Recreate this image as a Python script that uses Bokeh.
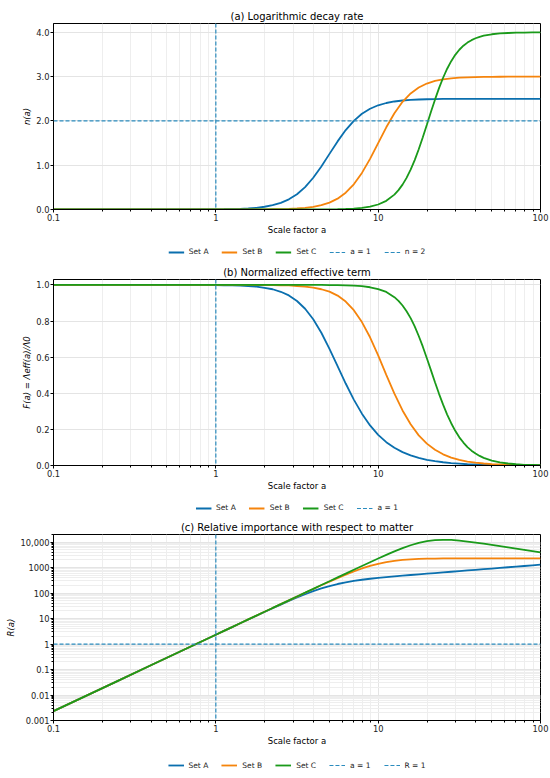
from bokeh.plotting import figure
from bokeh.models import FixedTicker, Range1d, Legend, LegendItem, Span, NumeralTickFormatter
from bokeh.layouts import column
from bokeh.embed import file_html
from bokeh.resources import INLINE

# ---- data ----
a = [0.1, 0.1585, 0.2512, 0.3981, 0.631, 1, 1.122, 1.259, 1.413, 1.585, 1.778, 1.995, 2.239, 2.512,
     2.818, 3.162, 3.548, 3.981, 4.467, 5.012, 5.623, 6.31, 7.079, 7.943, 8.913, 10, 11.22, 12.59,
     14.13, 15.85, 17.78, 19.95, 22.39, 25.12, 28.18, 31.62, 35.48, 39.81, 44.67, 50.12, 56.23,
     63.1, 70.79, 79.43, 89.13, 100]

# Set C is read more densely where it is steep
a_C = [0.1, 0.1585, 0.2512, 0.3981, 0.631, 1, 1.122, 1.259, 1.413, 1.585, 1.778, 1.995, 2.239, 2.512,
       2.818, 3.162, 3.548, 3.981, 4.467, 5.012, 5.623, 6.31, 7.079, 7.943, 8.913, 10, 11.22, 12.59,
       13.34, 14.13, 14.96, 15.85, 16.79, 17.78, 18.84, 19.95, 21.13, 22.39, 23.71, 25.12, 26.61, 28.18,
       29.85, 31.62, 33.5, 35.48, 37.58, 39.81, 42.17, 44.67, 50.12, 56.23, 63.1, 70.79, 79.43, 89.13, 100]

n_A = [0, 0, 0, 0, 0.001, 0.004, 0.006, 0.010, 0.016, 0.025, 0.039, 0.062, 0.097, 0.150, 0.229, 0.345,
       0.506, 0.717, 0.973, 1.256, 1.538, 1.793, 2.002, 2.161, 2.275, 2.353, 2.405, 2.439, 2.461, 2.475,
       2.484, 2.490, 2.494, 2.496, 2.498, 2.498, 2.499, 2.499, 2.5, 2.5, 2.5, 2.5, 2.5, 2.5, 2.5, 2.5]
n_B = [0, 0, 0, 0, 0, 0, 0, 0, 0.001, 0.001, 0.002, 0.003, 0.006, 0.009, 0.015, 0.024, 0.038, 0.061,
       0.098, 0.156, 0.245, 0.379, 0.57, 0.826, 1.144, 1.5, 1.856, 2.174, 2.431, 2.621, 2.754, 2.844,
       2.902, 2.939, 2.962, 2.976, 2.985, 2.991, 2.994, 2.997, 2.998, 2.999, 2.999, 3, 3, 3]
n_C = [0, 0, 0, 0, 0, 0, 0, 0, 0, 0, 0, 0, 0, 0, 0, 0, 0.001, 0.001, 0.002, 0.004, 0.007, 0.012, 0.021,
       0.036, 0.064, 0.113, 0.196, 0.336, 0.437, 0.562, 0.714, 0.900, 1.116, 1.361, 1.631, 1.913, 2.200,
       2.480, 2.740, 2.975, 3.179, 3.350, 3.492, 3.607, 3.698, 3.769, 3.824, 3.867, 3.899, 3.924, 3.957,
       3.976, 3.986, 3.992, 3.996, 3.998, 3.999]

F_A = [1, 1, 1, 1, 1, 0.999, 0.998, 0.997, 0.996, 0.994, 0.990, 0.984, 0.976, 0.962, 0.942, 0.911,
       0.868, 0.810, 0.735, 0.646, 0.550, 0.454, 0.365, 0.287, 0.222, 0.170, 0.129, 0.098, 0.074, 0.056,
       0.042, 0.031, 0.024, 0.018, 0.013, 0.010, 0.007, 0.006, 0.004, 0.003, 0.002, 0.002, 0.001, 0.001,
       0.001, 0.001]
F_B = [1, 1, 1, 1, 1, 1, 1, 1, 1, 1, 0.999, 0.999, 0.999, 0.998, 0.997, 0.994, 0.991, 0.985, 0.976,
       0.963, 0.941, 0.908, 0.86, 0.794, 0.71, 0.61, 0.502, 0.398, 0.305, 0.228, 0.167, 0.121, 0.087,
       0.062, 0.044, 0.031, 0.022, 0.016, 0.011, 0.008, 0.006, 0.004, 0.003, 0.002, 0.001, 0.001]
F_C = [1, 1, 1, 1, 1, 1, 1, 1, 1, 1, 1, 1, 1, 1, 1, 1, 1, 1, 1, 0.999, 0.999, 0.998, 0.996, 0.993,
       0.987, 0.977, 0.961, 0.932, 0.912, 0.886, 0.854, 0.816, 0.770, 0.717, 0.658, 0.594, 0.528, 0.461,
       0.397, 0.337, 0.282, 0.234, 0.192, 0.156, 0.127, 0.102, 0.082, 0.066, 0.053, 0.042, 0.027, 0.017,
       0.011, 0.007, 0.004, 0.003, 0.002]

R_A = [0.00233, 0.00928, 0.0369, 0.147, 0.585, 2.33, 3.29, 4.64, 6.55, 9.22, 13, 18.2, 25.5, 35.5, 49.1,
       67.1, 90.4, 119, 153, 190, 228, 266, 302, 335, 367, 397, 426, 455, 485, 515, 547, 580, 615, 652,
       691, 732, 776, 822, 870, 922, 977, 1035, 1096, 1161, 1230, 1303]
R_B = [0.00233, 0.00928, 0.0369, 0.147, 0.585, 2.33, 3.29, 4.65, 6.57, 9.27, 13.1, 18.5, 26.1, 36.9, 52,
       73.2, 103, 145, 203, 282, 390, 532, 711, 928, 1171, 1420, 1653, 1851, 2005, 2116, 2192, 2243, 2275,
       2296, 2309, 2317, 2322, 2325, 2327, 2328, 2329, 2329, 2330, 2330, 2330, 2330]
R_C = [0.00233, 0.00928, 0.0369, 0.147, 0.585, 2.33, 3.29, 4.65, 6.57, 9.28, 13.1, 18.5, 26.2, 36.9, 52.1,
       73.7, 104, 147, 208, 293, 414, 584, 823, 1160, 1630, 2280, 3160, 4330, 5820, 7570, 9390, 11000,
       12100, 12400, 12200, 11500, 10600, 9670, 8720, 7830, 7000, 6250, 5580, 4980, 4440, 3960]

series_names = ["Set A", "Set B", "Set C"]
ref_a = 1.0
ref_n = 2.0
ref_R = 1.0

x_ticks = [0.1, 1, 10, 100]
x_tick_labels = ["0.1", "1", "10", "100"]
n_ticks = [0, 1, 2, 3, 4]
F_ticks = [0, 0.2, 0.4, 0.6, 0.8, 1.0]
R_ticks = [1e-3, 1e-2, 1e-1, 1, 10, 100, 1000, 1e4]
R_tick_labels = ["0.001", "0.01", "0.1", "1", "10", "100", "1000", "10,000"]

# ---- style ----
COLORS = ["#0a6fae", "#f5840c", "#1a9a1a"]
REF = "#2b8cbe"
FONT = "DejaVu Sans"
LW = 1.8
DASH = "4 2"
DW = 1.2
HIDDEN = [-1.0]  # legend-strip key lines sit outside the strip's empty range


def minor_of(decades):
    return [m * d for d in decades for m in range(2, 10)]


def style(p):
    p.title.align = "center"
    p.title.text_font = FONT
    p.title.text_font_size = "10px"
    p.title.text_font_style = "normal"
    p.title.text_color = "black"
    p.title.standoff = 3
    p.xaxis.ticker = FixedTicker(ticks=x_ticks, minor_ticks=minor_of(x_ticks[:-1]))
    p.xaxis.major_label_overrides = dict(zip(x_ticks, x_tick_labels))
    for ax in p.axis:
        ax.major_label_text_font = FONT
        ax.major_label_text_font_size = "8.3px"
        ax.major_label_text_color = "#222222"
        ax.axis_label_text_font = FONT
        ax.axis_label_text_font_size = "8.5px"
        ax.axis_label_text_color = "black"
        ax.major_tick_out = 3
        ax.major_tick_in = 0
        ax.minor_tick_out = 2
        ax.minor_tick_in = 0
        ax.major_label_standoff = 1
        ax.axis_label_standoff = 1
        ax.axis_line_color = "black"
    p.xaxis.axis_label_text_font_style = "normal"
    p.yaxis.axis_label_text_font_style = "italic"
    p.outline_line_color = "black"
    p.outline_line_alpha = 1
    p.grid.grid_line_color = "#e4e4e4"
    p.xgrid.minor_grid_line_color = "#eeeeee"


panels = [
    dict(title="(a) Logarithmic decay rate", ylab="n(a)", ytype="linear", yr=(0, 4.2),
         xs=[a, a, a_C], ys=[n_A, n_B, n_C], h=239, top=23, hline=("n = 2", ref_n), lh=23, ltop=2),
    dict(title="(b) Normalized effective term", ylab="F(a) = Λeff(a)/Λ0", ytype="linear", yr=(0, 1.03),
         xs=[a, a, a_C], ys=[F_A, F_B, F_C], h=233, top=17, hline=None, lh=23, ltop=2),
    dict(title="(c) Relative importance with respect to matter", ylab="R(a)", ytype="log", yr=(1e-3, 2e4),
         xs=[a, a, a], ys=[R_A, R_B, R_C], h=232, top=16, hline=("R = 1", ref_R), lh=28, ltop=2),
]

rows = []
for i, spec in enumerate(panels):
    p = figure(width=550, height=spec["h"], x_axis_type="log", y_axis_type=spec["ytype"],
               x_range=Range1d(0.1, 100), y_range=Range1d(*spec["yr"]),
               output_backend="svg", toolbar_location=None,
               min_border_left=53, min_border_right=10,
               min_border_top=spec["top"], min_border_bottom=30,
               title=spec["title"])
    style(p)
    p.xaxis.axis_label = "Scale factor a"
    p.yaxis.axis_label = spec["ylab"]
    if i == 0:
        p.yaxis.ticker = FixedTicker(ticks=n_ticks)
        p.yaxis.formatter = NumeralTickFormatter(format="0.0")
    elif i == 1:
        p.yaxis.ticker = FixedTicker(ticks=F_ticks)
        p.yaxis.formatter = NumeralTickFormatter(format="0.0")
    else:
        p.yaxis.ticker = FixedTicker(ticks=R_ticks, minor_ticks=minor_of(R_ticks))
        p.yaxis.major_label_overrides = dict(zip(R_ticks, R_tick_labels))
        p.ygrid.minor_grid_line_color = "#eeeeee"

    for xs, ys, col in zip(spec["xs"], spec["ys"], COLORS):
        p.line(xs, ys, line_color=col, line_width=LW)
    p.add_layout(Span(location=ref_a, dimension="height", line_color=REF, line_dash=DASH, line_width=DW))
    if spec["hline"]:
        p.add_layout(Span(location=spec["hline"][1], dimension="width", line_color=REF,
                          line_dash=DASH, line_width=DW))
    rows.append(p)

    # legend strip under the panel
    lf = figure(width=550, height=spec["lh"], x_range=Range1d(0, 1), y_range=Range1d(0, 1),
                x_axis_location=None, y_axis_location=None,
                output_backend="svg", toolbar_location=None,
                min_border_left=53, min_border_right=10, min_border_top=spec["ltop"], min_border_bottom=0)
    lf.grid.visible = False
    lf.outline_line_color = None
    items = []
    for name, col in zip(series_names, COLORS):
        r = lf.line(HIDDEN, HIDDEN, line_color=col, line_width=LW)
        items.append(LegendItem(label=name, renderers=[r]))
    r = lf.line(HIDDEN, HIDDEN, line_color=REF, line_dash=DASH, line_width=DW)
    items.append(LegendItem(label="a = 1", renderers=[r]))
    if spec["hline"]:
        r = lf.line(HIDDEN, HIDDEN, line_color=REF, line_dash=DASH, line_width=DW)
        items.append(LegendItem(label=spec["hline"][0], renderers=[r]))
    lg = Legend(items=items, orientation="horizontal", location="center",
                border_line_alpha=0, background_fill_alpha=0,
                label_text_font=FONT, label_text_font_size="7.5px", label_text_color="#222222",
                glyph_width=16, glyph_height=10, label_height=10, label_width=10,
                label_standoff=5, spacing=13, padding=1, margin=0)
    lf.add_layout(lg)
    rows.append(lf)

lay = column(*rows, spacing=0)
open("out.html", "w").write(file_html(lay, INLINE))
